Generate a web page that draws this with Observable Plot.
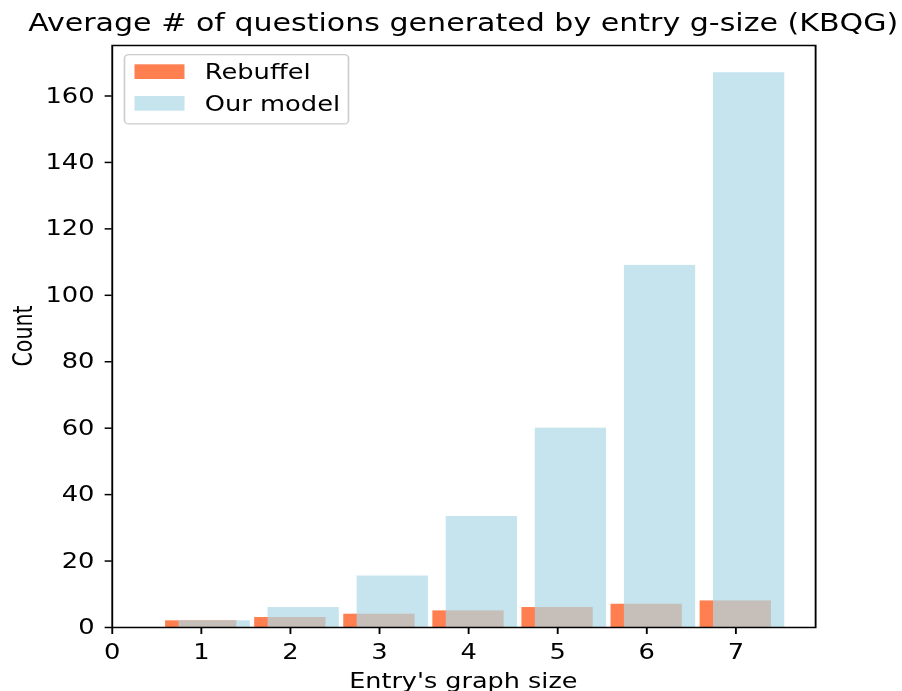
<!DOCTYPE html>
<html>
<head>
<meta charset="utf-8">
<script src="https://cdn.jsdelivr.net/npm/d3@7"></script>
<script src="https://cdn.jsdelivr.net/npm/@observablehq/plot@0.6"></script>
<style>
  html, body { margin: 0; padding: 0; background: #fff; overflow: hidden; }
  #wrap { position: relative; width: 721.6px; height: 691px; transform: scaleX(1.25); transform-origin: 0 0; font-family: "DejaVu Sans", sans-serif; }
  #title { position: absolute; left: 370.6px; top: 10.6px; transform: translateX(-50%); white-space: nowrap; font-size: 24.05px; line-height: 24.05px; color: #000; }
  #chart { position: absolute; left: 0; top: 40px; }
  #legend { position: absolute; left: 98.6px; top: 54px; }
</style>
</head>
<body>
<div id="wrap">
  <div id="title">Average # of questions generated by entry g-size (KBQG)</div>
  <div id="chart"></div>
  <div id="legend"></div>
</div>
<script>
// ---- data ----
const sizes = [1, 2, 3, 4, 5, 6, 7];
const rebuffel = [2, 3, 4, 5, 6, 7, 8];
const ourModel = [2, 6, 15.5, 33.4, 60, 109, 167];
const seriesNames = ["Rebuffel", "Our model"];
const xTicks = [0, 1, 2, 3, 4, 5, 6, 7];
const yTicks = [0, 20, 40, 60, 80, 100, 120, 140, 160];
const xLabel = "Entry's graph size";
const yLabel = "Count";

// ---- style ----
const colors = ["#FF7F50", "#ADD8E6"];
const opacities = [1, 0.7];
const barW = 0.8;
const ourShift = 0.15;

const rebData = sizes.map((s, i) => ({size: s, value: rebuffel[i]}));
const ourData = sizes.map((s, i) => ({size: s, value: ourModel[i]}));

const W = 721.6, H = 651;
const mL = 89.3, mR = 69.6, mT = 5, mB = 64;

const chart = Plot.plot({
  width: W,
  height: H,
  marginLeft: mL,
  marginRight: mR,
  marginTop: mT,
  marginBottom: mB,
  style: {fontFamily: "DejaVu Sans, sans-serif", fontSize: "20.6px", color: "#000", background: "#fff", overflow: "visible"},
  x: {domain: [0, 7.895]},
  y: {domain: [0, 175.2]},
  marks: [
    Plot.rectY(rebData, {x1: d => d.size - barW / 2, x2: d => d.size + barW / 2, y1: 0, y2: "value", fill: colors[0], fillOpacity: opacities[0], inset: 0}),
    Plot.rectY(ourData, {x1: d => d.size + ourShift - barW / 2, x2: d => d.size + ourShift + barW / 2, y1: 0, y2: "value", fill: colors[1], fillOpacity: opacities[1], inset: 0}),
    Plot.frame({stroke: "#000", strokeWidth: 1.5}),
    Plot.axisX({ticks: xTicks, tickSize: 7, tickPadding: 9.7, tickFormat: d => String(d), label: null, stroke: "#000", strokeWidth: 1.5}),
    Plot.axisY({ticks: yTicks, tickSize: 5.6, tickPadding: 8.6, tickFormat: d => String(d), label: null, stroke: "#000", strokeWidth: 1.5})
  ]
});
document.getElementById("chart").appendChild(chart);

// axis labels
const svg = d3.select(chart);
const cx = (mL + (W - mR)) / 2;
svg.append("text")
  .attr("x", cx).attr("y", H - 3)
  .attr("text-anchor", "middle")
  .attr("fill", "#000")
  .style("font-size", "20.4px")
  .text(xLabel);
svg.append("text")
  .attr("transform", `translate(25.4,${(mT + (H - mB)) / 2}) rotate(-90)`)
  .attr("text-anchor", "middle")
  .attr("fill", "#000")
  .style("font-size", "20.6px")
  .text(yLabel);

// legend
const lg = d3.select("#legend").append("svg")
  .attr("width", 180.5).attr("height", 71)
  .style("overflow", "visible")
  .style("font-family", "DejaVu Sans, sans-serif")
  .style("font-size", "20.6px");
lg.append("rect")
  .attr("x", 0.6).attr("y", 0.6).attr("width", 179.2).attr("height", 69.3)
  .attr("rx", 3.5)
  .attr("fill", "#fff").attr("fill-opacity", 0.8)
  .attr("stroke", "#cccccc").attr("stroke-width", 1.3);
seriesNames.forEach((name, i) => {
  const top = 10.3 + i * 31.7;
  lg.append("rect")
    .attr("x", 8.6).attr("y", top).attr("width", 40).attr("height", 14.7)
    .attr("fill", colors[i]).attr("fill-opacity", opacities[i]);
  lg.append("text")
    .attr("x", 64.8).attr("y", top + 15.2)
    .attr("fill", "#000")
    .text(name);
});
</script>
</body>
</html>
